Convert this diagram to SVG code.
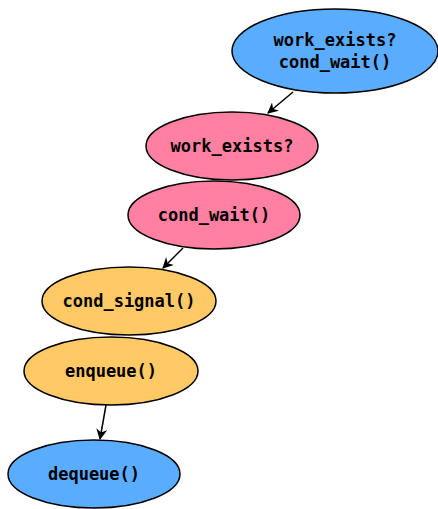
<svg xmlns="http://www.w3.org/2000/svg" width="438" height="509" viewBox="0 0 438 509">
  <style>
    .node ellipse { stroke: #000; stroke-width: 1.5; }
    .blue ellipse { fill: #5aacff; }
    .pink ellipse { fill: #ff80a0; }
    .orange ellipse { fill: #ffc966; }
    text { font-family: "DejaVu Sans Mono", monospace; font-weight: bold; font-size: 17px; text-anchor: middle; fill: #000; }
    .edges line { stroke: #000; stroke-width: 1.5; }
  </style>
  <defs>
    <marker id="arrow" viewBox="0 0 10 10" refX="9" refY="5" markerWidth="11" markerHeight="11" markerUnits="userSpaceOnUse" orient="auto">
      <path d="M0,0 L10,5 L0,10 L3,5 Z" fill="#000"/>
    </marker>
  </defs>

  <g class="edges">
    <line x1="293" y1="92" x2="268" y2="113" marker-end="url(#arrow)"/>
    <line x1="183" y1="248" x2="163" y2="268" marker-end="url(#arrow)"/>
    <line x1="106" y1="405" x2="100" y2="439" marker-end="url(#arrow)"/>
  </g>

  <g id="node-wait-top" class="node blue">
    <ellipse cx="335" cy="51" rx="103" ry="42"/>
    <text x="335" y="46">work_exists?</text>
    <text x="335" y="68">cond_wait()</text>
  </g>
  <g id="node-work-exists" class="node pink">
    <ellipse cx="232" cy="146" rx="86" ry="34"/>
    <text x="232" y="152">work_exists?</text>
  </g>
  <g id="node-cond-wait" class="node pink">
    <ellipse cx="214" cy="215" rx="86" ry="34"/>
    <text x="214" y="221">cond_wait()</text>
  </g>
  <g id="node-cond-signal" class="node orange">
    <ellipse cx="129" cy="301" rx="87" ry="34"/>
    <text x="129" y="307">cond_signal()</text>
  </g>
  <g id="node-enqueue" class="node orange">
    <ellipse cx="111" cy="371" rx="87" ry="34"/>
    <text x="111" y="377">enqueue()</text>
  </g>
  <g id="node-dequeue" class="node blue">
    <ellipse cx="94" cy="474" rx="86" ry="34"/>
    <text x="94" y="480">dequeue()</text>
  </g>
</svg>
